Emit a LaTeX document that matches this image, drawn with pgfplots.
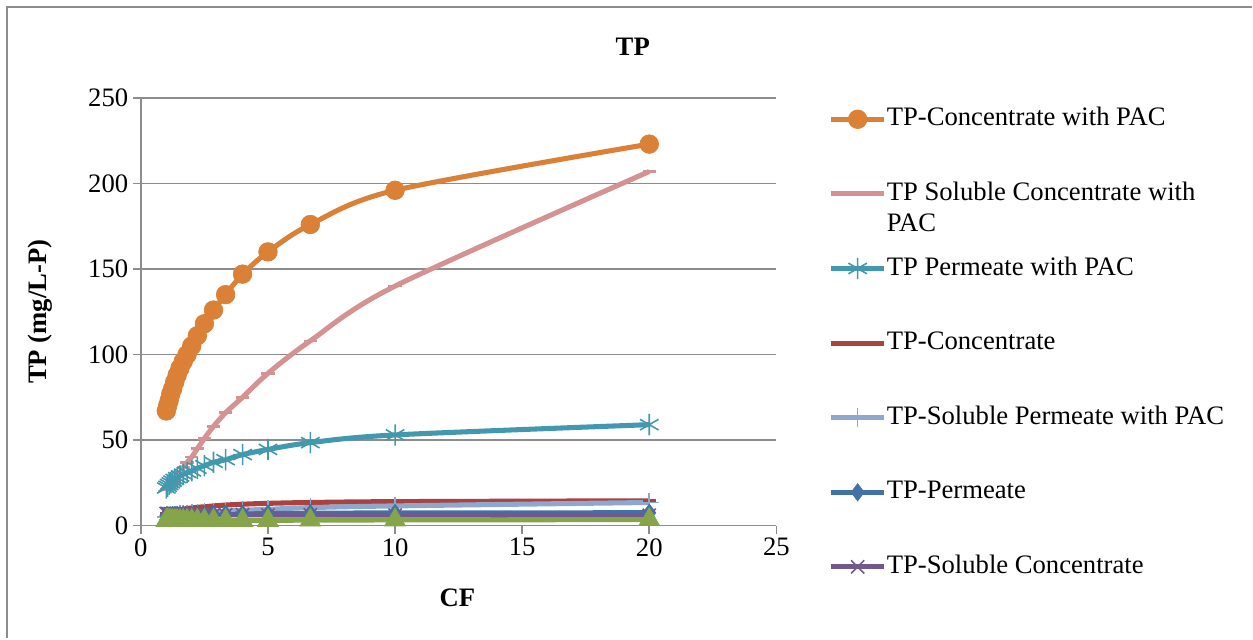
\documentclass[border=0pt]{standalone}
\usepackage{fontspec}
\setmainfont{Liberation Serif}
\usepackage{pgfplots}
\pgfplotsset{compat=1.18}
\definecolor{cOrange}{RGB}{218,129,55}
\definecolor{cPink}{RGB}{213,146,146}
\definecolor{cTeal}{RGB}{66,152,175}
\definecolor{cRed}{RGB}{170,66,63}
\definecolor{cLBlue}{RGB}{141,167,206}
\definecolor{cDBlue}{RGB}{65,113,167}
\definecolor{cPurple}{RGB}{113,88,143}
\definecolor{cGreen}{RGB}{134,164,74}
\definecolor{gridgray}{RGB}{140,140,140}
\newcommand{\bigf}{\fontsize{20}{23}\selectfont}
\begin{document}
\begin{tikzpicture}[x=1pt,y=1pt]
\path (0,0) rectangle (939.75,479.25);
\draw[gridgray, line width=1.5pt] (5.25,0) -- (5.25,474) -- (939.75,474);
\begin{axis}[
  at={(105.75pt,84.75pt)}, anchor=south west,
  scale only axis, width=477pt, height=321pt,
  xmin=0, xmax=25, ymin=0, ymax=250,
  xtick={0,5,...,25}, ytick={0,50,...,250},
  axis x line=bottom, axis y line=left,
  axis line style={-, draw=gridgray, line width=1.2pt},
  ymajorgrids, grid style={gridgray, line width=1.2pt},
  tick align=outside, major tick length=6pt,
  tick style={gridgray, line width=1.2pt},
  tick label style={font=\bigf, black},
  /pgf/number format/assume math mode=true,
  xlabel={\textbf{CF}}, ylabel={\textbf{TP (mg/L-P)}},
  label style={font=\bigf},
  xlabel style={at={(axis description cs:0.498,-0.168)}, anchor=center},
  ylabel style={at={(axis description cs:-0.159,0.5)}, anchor=center},
  title={\textbf{TP}}, every axis title shift=0pt,
  title style={font=\bigf, at={(axis description cs:0.774,1.119)}, anchor=center},
  clip=false,
  legend style={at={(axis description cs:1.0753,0.985)}, anchor=north west, draw=none, fill=none,
    font=\bigf, row sep=38pt, cells={anchor=west},
    nodes={inner sep=0pt, text height=14pt, text depth=4pt}},
  legend image code/.code={\draw[mark repeat=2, mark phase=2, #1] plot coordinates {(0pt,0pt) (20pt,0pt) (40pt,0pt)};},
  every axis plot/.append style={line width=3.8pt, smooth},
]
\addplot[cOrange, line width=3.8pt, mark=*, mark size=7pt, mark options={fill=cOrange, draw=cOrange, line width=0.5pt}] coordinates {
(1,67)(1.0526,70)(1.1111,73)(1.1765,77)(1.25,80)(1.3333,84)(1.4286,88)(1.5385,92)(1.6667,96)(1.8182,100)
(2,105)(2.2222,111)(2.5,118)(2.8571,126)(3.3333,135)(4,147)(5,160)(6.6667,176)(10,196)(20,223)};
\addlegendentry{TP-Concentrate with PAC}
\addplot[cPink, line width=3.8pt, mark=-, mark size=5pt, mark options={line width=2pt}] coordinates {
(1,21)(1.0526,22)(1.1111,23)(1.1765,24)(1.25,25)(1.3333,27)(1.4286,29)(1.5385,31)(1.6667,34)(1.8182,37)
(2,40)(2.2222,45)(2.5,51)(2.8571,58)(3.3333,66)(4,75)(5,89)(6.6667,108)(10,140)(20,207)};
\addlegendentry{\raisebox{0pt}[\height][0pt]{\begin{tabular}[t]{@{}l@{}}TP Soluble Concentrate with\\PAC\end{tabular}}}
\addplot[cTeal, line width=3.8pt, mark=asterisk, mark size=8pt, mark options={line width=1.2pt}] coordinates {
(1,22)(1.0526,23)(1.1111,24)(1.1765,25)(1.25,26)(1.3333,27)(1.4286,28)(1.5385,29)(1.6667,30)(1.8182,31)
(2,32)(2.2222,33.5)(2.5,35)(2.8571,37)(3.3333,38.5)(4,41.5)(5,44.5)(6.6667,48.5)(10,53)(20,59)};
\addlegendentry{TP Permeate with PAC}
\addplot[cRed, line width=3.8pt, mark=-, mark size=5pt, mark options={line width=2pt}] coordinates {
(1,7)(1.0526,7.3)(1.1111,7.6)(1.1765,8)(1.25,8.3)(1.3333,8.7)(1.4286,9)(1.5385,9.3)(1.6667,9.6)(1.8182,10)
(2,10.3)(2.2222,10.7)(2.5,11)(2.8571,11.5)(3.3333,12)(4,12.5)(5,13)(6.6667,13.5)(10,14)(20,14.5)};
\addlegendentry{TP-Concentrate}
\addplot[cLBlue, line width=3.8pt, mark=+, mark size=7pt, mark options={line width=1.2pt}] coordinates {
(1,5)(1.0526,5.2)(1.1111,5.4)(1.1765,5.6)(1.25,5.8)(1.3333,6)(1.4286,6.2)(1.5385,6.4)(1.6667,6.6)(1.8182,6.8)
(2,7)(2.2222,7.3)(2.5,7.7)(2.8571,8)(3.3333,8.5)(4,9)(5,9.5)(6.6667,10.5)(10,11.5)(20,13.5)};
\addlegendentry{TP-Soluble Permeate with PAC}
\addplot[cDBlue, line width=3.8pt, mark=diamond*, mark size=6.5pt, mark options={line width=0.5pt}] coordinates {
(1,6)(1.0526,6)(1.1111,6)(1.1765,6)(1.25,6)(1.3333,6)(1.4286,6.1)(1.5385,6.1)(1.6667,6.2)(1.8182,6.2)
(2,6.3)(2.2222,6.4)(2.5,6.5)(2.8571,6.6)(3.3333,6.7)(4,6.8)(5,7)(6.6667,7.2)(10,7.4)(20,7.5)};
\addlegendentry{TP-Permeate}
\addplot[cPurple, line width=3.8pt, mark=x, mark size=7pt, mark options={line width=1.2pt}] coordinates {
(1,7)(1.0526,7)(1.1111,6.9)(1.1765,6.9)(1.25,6.8)(1.3333,6.8)(1.4286,6.7)(1.5385,6.7)(1.6667,6.6)(1.8182,6.6)
(2,6.5)(2.2222,6.5)(2.5,6.4)(2.8571,6.4)(3.3333,6.3)(4,6.3)(5,6.2)(6.6667,6.2)(10,6.1)(20,6)};
\addlegendentry{TP-Soluble Concentrate}
\addplot[cGreen, line width=3.8pt, mark=triangle*, mark size=9pt, mark options={line width=0.5pt}, forget plot] coordinates {
(1,3)(1.0526,3)(1.1111,3)(1.1765,3)(1.25,3)(1.3333,3)(1.4286,3)(1.5385,3)(1.6667,3)(1.8182,3)
(2,3)(2.2222,3)(2.5,3)(2.8571,3)(3.3333,3)(4,3)(5,3)(6.6667,3.2)(10,3.3)(20,3.5)};
\end{axis}
\end{tikzpicture}
\end{document}
